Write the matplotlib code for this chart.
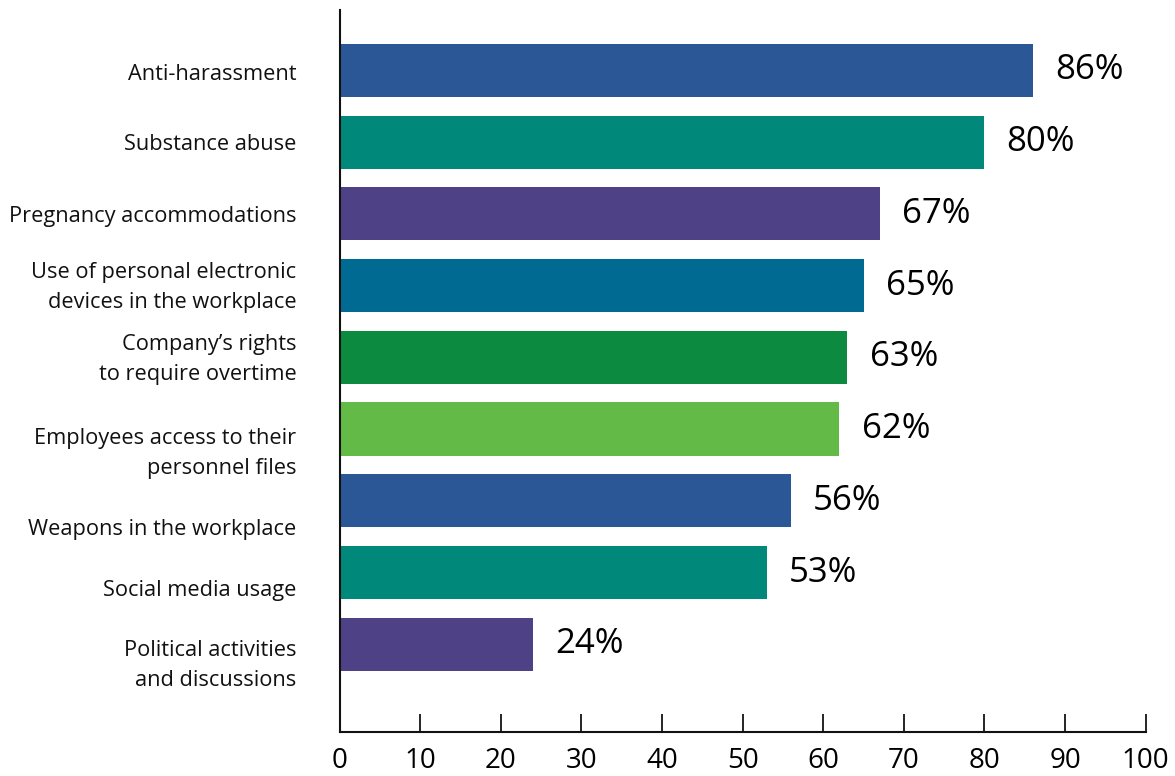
import numpy as np
import matplotlib
matplotlib.use("Agg")
import matplotlib.pyplot as plt

plt.rcParams['font.family'] = ['Open Sans', 'DejaVu Sans']

categories = [
    "Anti-harassment",
    "Substance abuse",
    "Pregnancy accommodations",
    "Use of personal electronic\ndevices in the workplace",
    "Company\u2019s rights\nto require overtime",
    "Employees access to their\npersonnel files",
    "Weapons in the workplace",
    "Social media usage",
    "Political activities\nand discussions",
]
values = [86, 80, 67, 65, 63, 62, 56, 53, 24]
colors = ["#2B5797", "#00897A", "#4F4185", "#006A93", "#0B8A40",
          "#63BA47", "#2B5797", "#00897A", "#4F4185"]
# nudge for each label relative to its bar (two-line labels sit a bit high)
label_shift = [0.02, 0, 0, -0.07, -0.07, 0.24, 0.36, 0.21, 0.20]
xticks = [0, 10, 20, 30, 40, 50, 60, 70, 80, 90, 100]

fig = plt.figure(figsize=(11.75, 7.76), dpi=100)
ax = fig.add_axes([0.289, 0.057, 0.686, 0.930])

pos = np.arange(len(values))
ax.barh(pos, values, height=0.74, color=colors)

for p, v in zip(pos, values):
    ax.annotate(f"{v}%", (v, p), xytext=(16, 0), textcoords="offset points",
                ha="left", va="center", fontsize=25, color="black")

ax.set_ylim(len(values) - 1 + 1.22, -0.84)
ax.set_xlim(0, 100)
ax.set_xticks(xticks)
ax.set_xticklabels([str(t) for t in xticks], fontsize=20)
ax.tick_params(axis="x", direction="in", length=13, width=1.2, pad=11)

ax.set_yticks(pos + np.array(label_shift))
ax.set_yticklabels(categories, fontsize=15.7, linespacing=1.55, color="#111111")
ax.tick_params(axis="y", length=0, pad=31)

for s in ["top", "right"]:
    ax.spines[s].set_visible(False)
for s in ["left", "bottom"]:
    ax.spines[s].set_linewidth(1.5)
    ax.spines[s].set_color("#111111")

fig.savefig("out.png", dpi=100)
